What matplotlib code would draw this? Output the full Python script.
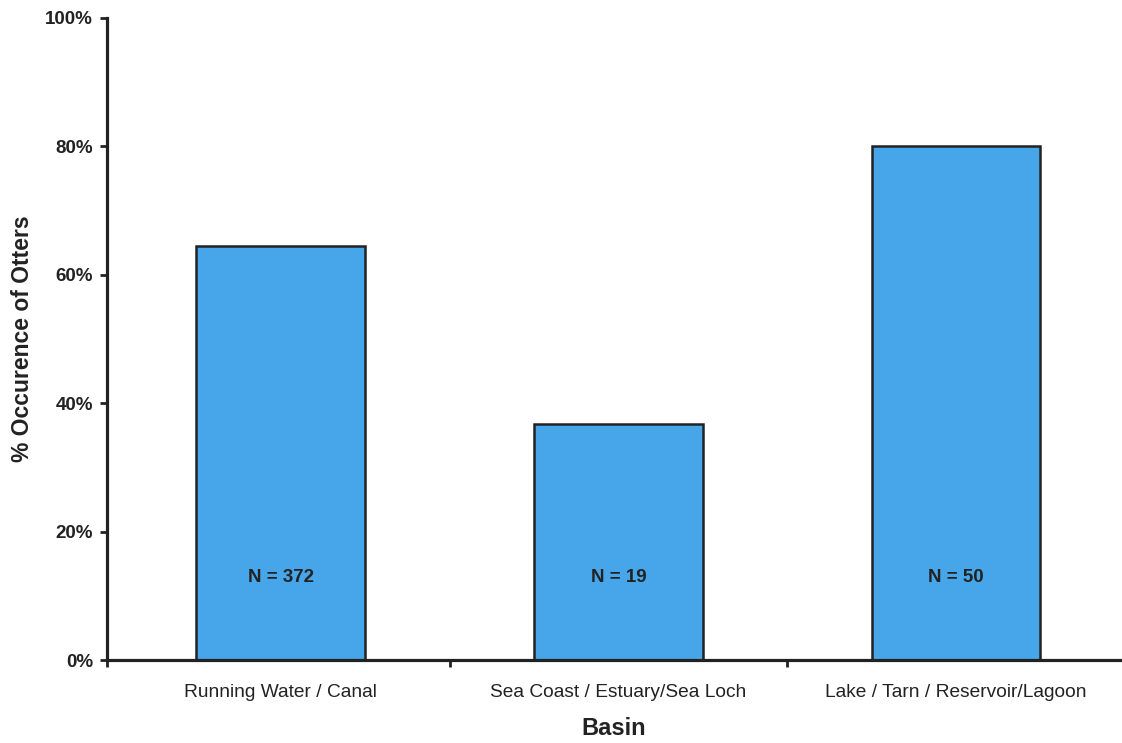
import matplotlib
matplotlib.use("Agg")
import matplotlib.pyplot as plt
from matplotlib.ticker import FixedLocator, PercentFormatter

categories = ["Running Water / Canal", "Sea Coast / Estuary/Sea Loch", "Lake / Tarn / Reservoir/Lagoon"]
values = [64.5, 36.8, 80.0]
n_labels = ["N = 372", "N = 19", "N = 50"]
yticks = [0, 20, 40, 60, 80, 100]

plt.rcParams['font.family'] = ['Liberation Sans', 'DejaVu Sans']

fig = plt.figure(figsize=(11.22, 7.43), dpi=100)
ax = fig.add_axes([0.0954, 0.1117, 0.9026, 0.8641])

x = list(range(len(categories)))
ax.bar(x, values, width=0.5, color='#47a6ea', edgecolor='#222222', linewidth=1.8, zorder=2)

for xi, lab in zip(x, n_labels):
    ax.text(xi, 12.9, lab, ha='center', va='center', fontsize=13.5, fontweight='bold', color='#222222', zorder=3)

ax.set_xlim(-0.515, 2.485)
ax.set_ylim(0, 100)
ax.set_yticks(yticks)
ax.yaxis.set_major_formatter(PercentFormatter(decimals=0))
ax.set_xticks(x)
ax.set_xticklabels(categories, fontsize=13.8, color='#222222')
ax.xaxis.set_minor_locator(FixedLocator([-0.515, 0.5, 1.5]))
ax.tick_params(axis='x', which='major', length=0, pad=17)
ax.tick_params(axis='x', which='minor', length=5, width=2, color='#222222', direction='out')
ax.tick_params(axis='y', length=5, width=2, color='#222222', direction='out', pad=5)
for t in ax.get_yticklabels():
    t.set_fontweight('bold')
    t.set_fontsize(13.5)
    t.set_color('#222222')

for s in ['top', 'right']:
    ax.spines[s].set_visible(False)
for s in ['left', 'bottom']:
    ax.spines[s].set_linewidth(2.3)
    ax.spines[s].set_color('#222222')

ax.set_xlabel("Basin", fontsize=17, fontweight='bold', color='#222222', labelpad=12)
ax.set_ylabel("% Occurence of Otters", fontsize=16.5, fontweight='bold', color='#222222', labelpad=8)

fig.savefig("out.png", dpi=100)
